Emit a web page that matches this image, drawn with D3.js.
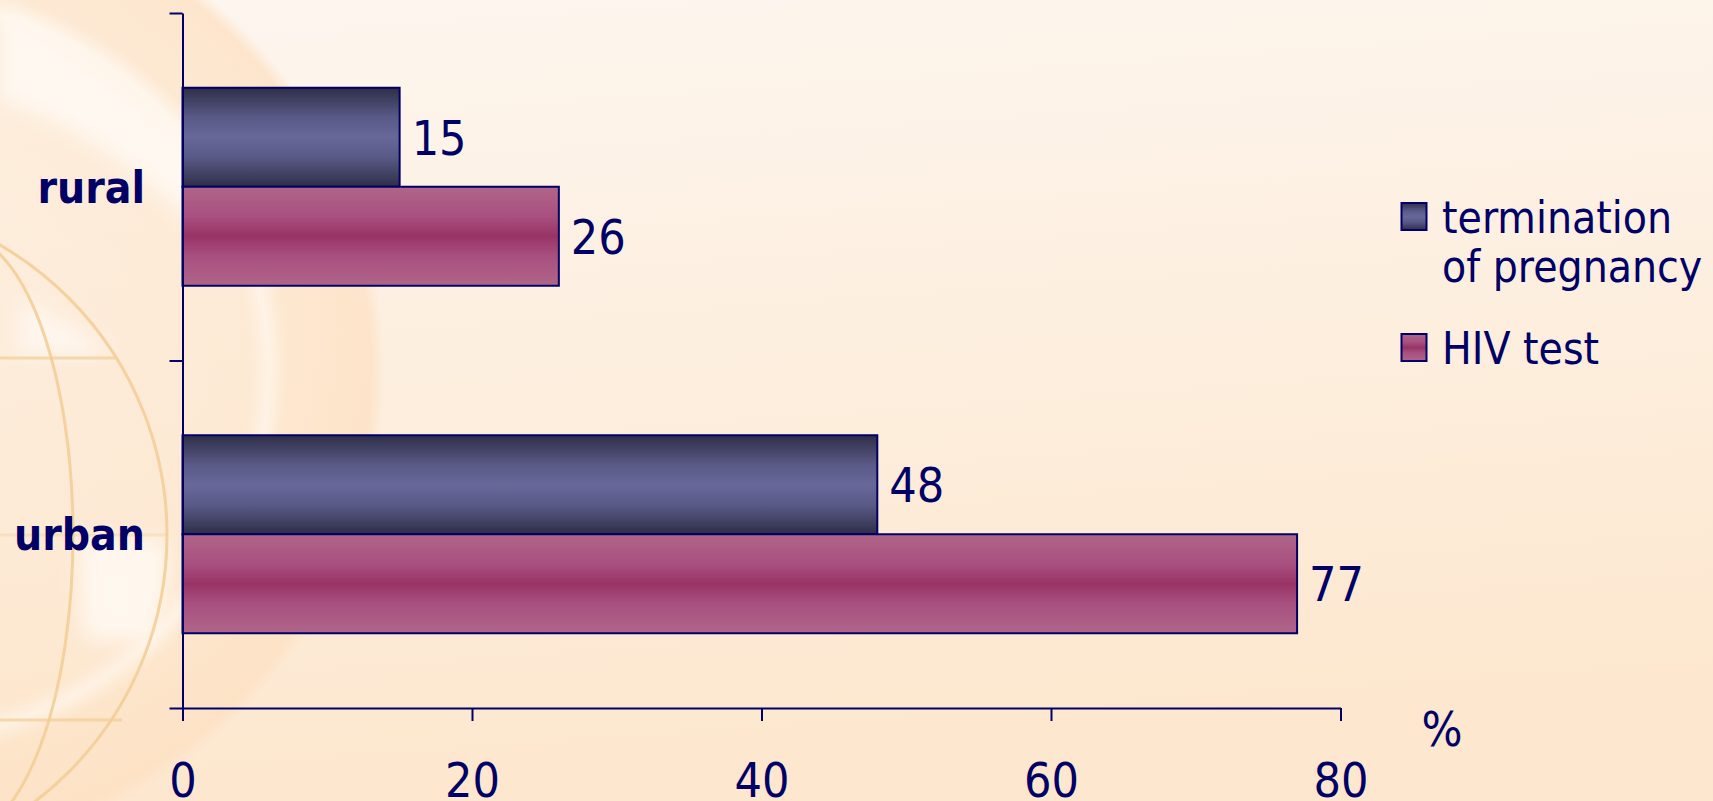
<!DOCTYPE html>
<html>
<head>
<meta charset="utf-8">
<script src="https://cdn.jsdelivr.net/npm/d3@7"></script>
<style>
  html, body { margin: 0; padding: 0; overflow: hidden; }
  svg text { font-family: "DejaVu Sans", Verdana, sans-serif; font-stretch: condensed; fill: #000066; }
</style>
</head>
<body>
<svg id="chart" width="1713" height="801"></svg>
<script>
// chart data
var categories = ['rural', 'urban'];
var seriesNames = ['termination of pregnancy', 'HIV test'];
var legendLines = [['termination', 'of pregnancy'], ['HIV test']];
var terminationValues = [15, 48];
var hivValues = [26, 77];
var xTicks = [0, 20, 40, 60, 80];

var W = 1713, H = 801;
var navy = '#000066';
var svg = d3.select('#chart');
var defs = svg.append('defs');

// background
var bg = defs.append('linearGradient').attr('id', 'bg').attr('x1', 0).attr('y1', 0).attr('x2', 0.15).attr('y2', 1);
bg.append('stop').attr('offset', 0).attr('stop-color', '#fdf6ef');
bg.append('stop').attr('offset', 1).attr('stop-color', '#fde7ce');
svg.append('rect').attr('width', W).attr('height', H).attr('fill', 'url(#bg)');

defs.append('filter').attr('id', 'soft').attr('x', '-20%').attr('y', '-20%').attr('width', '140%').attr('height', '140%')
  .append('feGaussianBlur').attr('stdDeviation', 10);

var disc = defs.append('radialGradient').attr('id', 'disc')
  .attr('gradientUnits', 'userSpaceOnUse').attr('cx', -100).attr('cy', 370).attr('r', 485);
[[0, '#fdebd8', 0.5], [0.72, '#fde6cd', 0.6], [0.76, '#fff4e8', 0.8], [0.8, '#fde4c8', 0.7],
 [0.97, '#fde0c2', 0.75], [1, '#fde0c2', 0]].forEach(function (s) {
  disc.append('stop').attr('offset', s[0]).attr('stop-color', s[1]).attr('stop-opacity', s[2]);
});

// globe decoration, left side
var deco = svg.append('g');
deco.append('circle').attr('cx', -100).attr('cy', 370).attr('r', 485).attr('fill', 'url(#disc)');
deco.append('path')
  .attr('d', 'M0,10 Q120,60 230,180 L200,230 Q100,130 0,100 Z')
  .attr('fill', '#fffaf4').attr('fill-opacity', 0.85).attr('filter', 'url(#soft)');
deco.append('path')
  .attr('d', 'M80,540 L165,540 Q170,600 150,640 L85,640 Q80,600 80,540 Z')
  .attr('fill', '#fffaf5').attr('fill-opacity', 0.85).attr('filter', 'url(#soft)');
deco.append('path')
  .attr('d', 'M20,300 Q70,320 110,355 L20,355 Z')
  .attr('fill', '#fffaf5').attr('fill-opacity', 0.75).attr('filter', 'url(#soft)');
var lineStyle = function (sel) {
  return sel.attr('fill', 'none').attr('stroke', '#f2cc94').attr('stroke-width', 3).attr('stroke-opacity', 0.85);
};
lineStyle(deco.append('circle').attr('cx', -168).attr('cy', 535).attr('r', 335));
lineStyle(deco.append('ellipse').attr('cx', -40).attr('cy', 535).attr('rx', 113).attr('ry', 300));
deco.selectAll('line.lat').data([[358, 115, 0.7], [535, 167, 0.35], [720, 122, 0.7]]).enter().append('line')
  .attr('x1', 0).attr('x2', function (d) { return d[1]; })
  .attr('y1', function (d) { return d[0]; }).attr('y2', function (d) { return d[0]; })
  .attr('stroke', '#f2cc94').attr('stroke-width', 3).attr('stroke-opacity', function (d) { return d[2]; });

// bar gradients
function barGradient(id, stops) {
  var g = defs.append('linearGradient').attr('id', id).attr('x1', 0).attr('y1', 0).attr('x2', 0).attr('y2', 1);
  stops.forEach(function (s) { g.append('stop').attr('offset', s[0]).attr('stop-color', s[1]); });
}
barGradient('gTerm', [[0, '#2e2e48'], [0.3, '#5a5a88'], [0.5, '#676799'], [0.7, '#5a5a88'], [1, '#2e2e48']]);
barGradient('gHiv', [[0, '#b06589'], [0.3, '#a85080'], [0.5, '#993366'], [0.7, '#a85080'], [1, '#b06589']]);
var fills = ['url(#gTerm)', 'url(#gHiv)'];

// scales
var plotLeft = 182.5, plotRight = 1340.5, plotTop = 13, plotBottom = 708;
var x = d3.scaleLinear().domain([0, 80]).range([plotLeft, plotRight]);
var y = d3.scaleBand().domain(categories).range([plotTop, plotBottom]).padding(0);
var ySub = d3.scaleBand().domain(d3.range(seriesNames.length)).range([0, y.bandwidth()])
  .paddingInner(0).paddingOuter(0.755);
var yEdge = d3.scaleLinear().domain([0, categories.length]).range([plotTop, plotBottom]);

var rows = [];
categories.forEach(function (c, i) {
  rows.push({ cat: c, s: 0, v: terminationValues[i] });
  rows.push({ cat: c, s: 1, v: hivValues[i] });
});

// bars
svg.append('g').selectAll('rect').data(rows).enter().append('rect')
  .attr('x', x(0))
  .attr('y', function (d) { return y(d.cat) + ySub(d.s); })
  .attr('width', function (d) { return x(d.v) - x(0); })
  .attr('height', ySub.bandwidth())
  .attr('fill', function (d) { return fills[d.s]; })
  .attr('stroke', navy).attr('stroke-width', 2);

// value labels
svg.append('g').selectAll('text').data(rows).enter().append('text')
  .attr('x', function (d) { return x(d.v) + 12; })
  .attr('y', function (d) { return y(d.cat) + ySub(d.s) + ySub.bandwidth() / 2 + 17.5; })
  .attr('font-size', 48)
  .text(function (d) { return d.v; });

// y axis (boundary ticks)
var yAxis = svg.append('g').attr('transform', 'translate(' + plotLeft + ',0)')
  .call(d3.axisLeft(yEdge).tickValues(d3.range(categories.length + 1)).tickFormat('').tickSize(13).tickSizeOuter(0));
yAxis.selectAll('path, line').attr('stroke', navy).attr('stroke-width', 2);

svg.append('g').selectAll('text').data(categories).enter().append('text')
  .attr('x', 145)
  .attr('y', function (d) { return y(d) + y.bandwidth() / 2 + 16; })
  .attr('text-anchor', 'end').attr('font-size', 44).attr('font-weight', 'bold')
  .text(function (d) { return d; });

// x axis
var xAxis = svg.append('g').attr('transform', 'translate(0,' + plotBottom + ')')
  .call(d3.axisBottom(x).tickValues(xTicks).tickSize(13).tickSizeOuter(0).tickPadding(42));
xAxis.selectAll('path, line').attr('stroke', navy).attr('stroke-width', 2);
xAxis.selectAll('text').attr('font-size', 48).attr('font-family', null).attr('fill', navy);
xAxis.attr('font-family', null).attr('font-size', null);

svg.append('text').attr('x', 1442).attr('y', 746).attr('text-anchor', 'middle').attr('font-size', 48).text('%');

// legend
var legendY = [203, 334];
var legend = svg.append('g').selectAll('g').data(seriesNames).enter().append('g')
  .attr('transform', function (d, i) { return 'translate(1401.5,' + legendY[i] + ')'; });
legend.append('rect').attr('width', 25).attr('height', 27)
  .attr('fill', function (d, i) { return fills[i]; })
  .attr('stroke', navy).attr('stroke-width', 2);
legend.each(function (d, i) {
  var t = d3.select(this).append('text').attr('x', 40.5).attr('y', 30).attr('font-size', 44);
  legendLines[i].forEach(function (line, j) {
    t.append('tspan').attr('x', 40.5).attr('dy', j === 0 ? 0 : 49).text(line);
  });
});
</script>
</body>
</html>
